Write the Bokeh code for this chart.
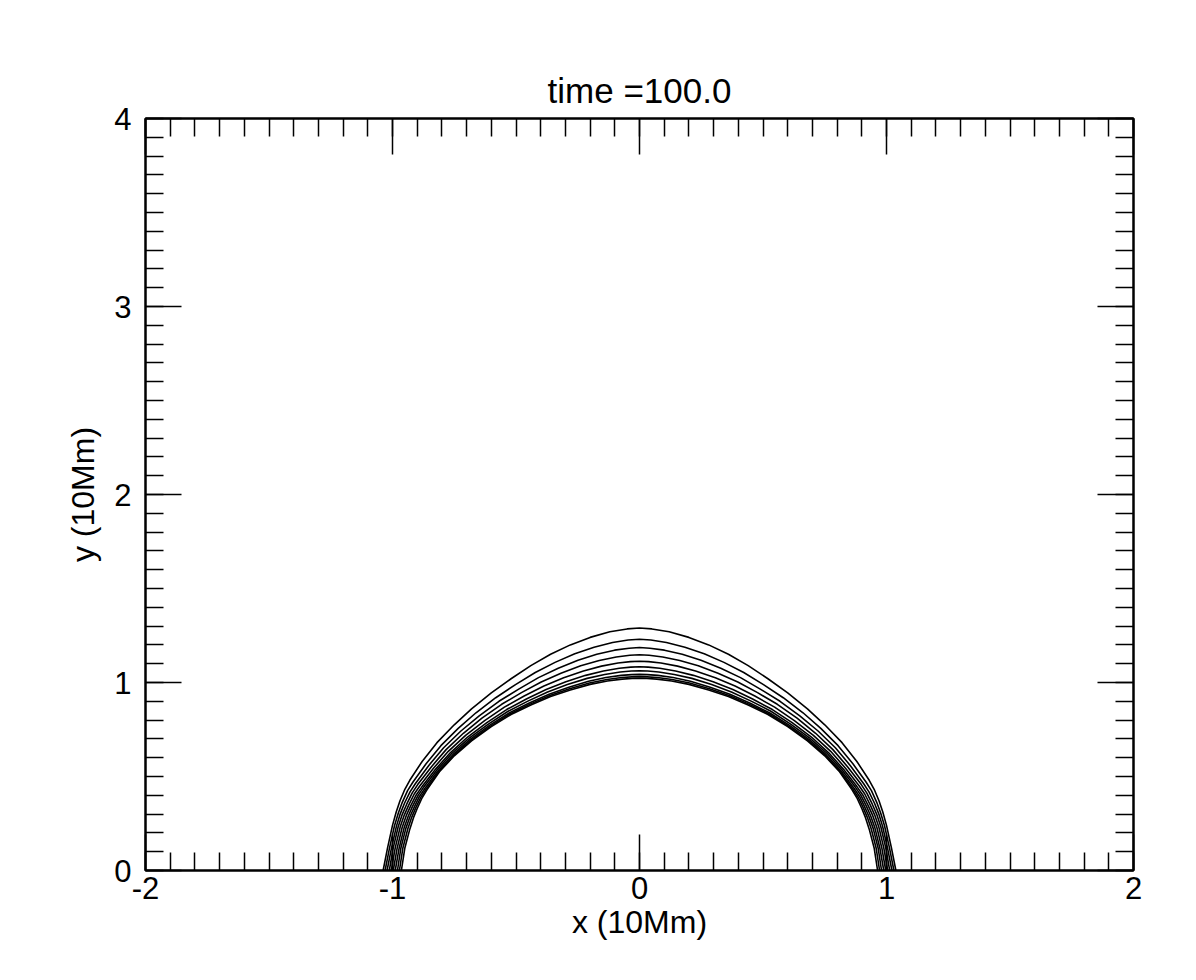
from bokeh.plotting import figure
from bokeh.models import Range1d, LinearAxis, SingleIntervalTicker
from bokeh.embed import file_html
from bokeh.resources import INLINE

# Left halves of the ten field lines (x from foot to apex).
# The arches are symmetric about x = 0.
line0_x = [-1.038, -1.020, -1.000, -0.985, -0.970, -0.950, -0.930, -0.880, -0.820, -0.750, -0.680, -0.600, -0.520, -0.440, -0.360, -0.280, -0.200, -0.120, -0.050, 0.0]
line0_y = [0.0, 0.12, 0.24, 0.311, 0.37, 0.432, 0.48, 0.58, 0.68, 0.775, 0.86, 0.945, 1.02, 1.09, 1.15, 1.20, 1.24, 1.27, 1.285, 1.29]
line1_x = [-1.030, -1.012, -0.992, -0.976, -0.960, -0.939, -0.917, -0.864, -0.804, -0.734, -0.662, -0.582, -0.502, -0.422, -0.342, -0.262, -0.184, -0.109, -0.046, 0.0]
line1_y = [0.0, 0.12, 0.238, 0.307, 0.364, 0.425, 0.471, 0.568, 0.664, 0.756, 0.839, 0.919, 0.989, 1.053, 1.107, 1.153, 1.188, 1.213, 1.226, 1.230]
line2_x = [-1.022, -1.004, -0.984, -0.968, -0.951, -0.929, -0.907, -0.853, -0.793, -0.723, -0.649, -0.569, -0.489, -0.409, -0.329, -0.249, -0.173, -0.101, -0.042, 0.0]
line2_y = [0.0, 0.12, 0.236, 0.304, 0.359, 0.418, 0.463, 0.559, 0.653, 0.742, 0.823, 0.900, 0.965, 1.026, 1.076, 1.118, 1.150, 1.172, 1.182, 1.186]
line3_x = [-1.013, -0.997, -0.977, -0.960, -0.942, -0.920, -0.898, -0.843, -0.783, -0.713, -0.638, -0.558, -0.478, -0.398, -0.318, -0.238, -0.163, -0.094, -0.039, 0.0]
line3_y = [0.0, 0.12, 0.233, 0.300, 0.354, 0.413, 0.457, 0.551, 0.643, 0.730, 0.810, 0.884, 0.946, 1.003, 1.049, 1.089, 1.117, 1.136, 1.145, 1.148]
line4_x = [-1.005, -0.989, -0.969, -0.952, -0.934, -0.912, -0.889, -0.834, -0.774, -0.704, -0.627, -0.547, -0.467, -0.387, -0.307, -0.227, -0.154, -0.087, -0.037, 0.0]
line4_y = [0.0, 0.12, 0.231, 0.296, 0.349, 0.407, 0.451, 0.544, 0.634, 0.719, 0.797, 0.869, 0.928, 0.981, 1.025, 1.061, 1.087, 1.104, 1.111, 1.113]
line5_x = [-0.997, -0.981, -0.961, -0.944, -0.926, -0.904, -0.881, -0.826, -0.766, -0.696, -0.618, -0.538, -0.458, -0.378, -0.298, -0.218, -0.146, -0.082, -0.035, 0.0]
line5_y = [0.0, 0.12, 0.229, 0.293, 0.345, 0.402, 0.445, 0.538, 0.626, 0.710, 0.787, 0.856, 0.912, 0.963, 1.004, 1.038, 1.061, 1.076, 1.082, 1.084]
line6_x = [-0.989, -0.973, -0.953, -0.936, -0.919, -0.897, -0.875, -0.821, -0.761, -0.691, -0.612, -0.532, -0.452, -0.372, -0.292, -0.212, -0.141, -0.078, -0.033, 0.0]
line6_y = [0.0, 0.12, 0.227, 0.290, 0.341, 0.398, 0.441, 0.533, 0.621, 0.703, 0.779, 0.847, 0.901, 0.950, 0.989, 1.022, 1.043, 1.056, 1.061, 1.062]
line7_x = [-0.980, -0.966, -0.946, -0.929, -0.912, -0.891, -0.869, -0.816, -0.756, -0.686, -0.606, -0.526, -0.446, -0.366, -0.286, -0.206, -0.136, -0.074, -0.032, 0.0]
line7_y = [0.0, 0.12, 0.224, 0.287, 0.337, 0.394, 0.436, 0.529, 0.616, 0.697, 0.773, 0.839, 0.891, 0.938, 0.975, 1.007, 1.027, 1.038, 1.042, 1.043]
line8_x = [-0.972, -0.958, -0.938, -0.922, -0.906, -0.885, -0.864, -0.812, -0.752, -0.682, -0.603, -0.523, -0.443, -0.363, -0.283, -0.203, -0.132, -0.072, -0.031, 0.0]
line8_y = [0.0, 0.12, 0.222, 0.284, 0.333, 0.390, 0.433, 0.527, 0.612, 0.693, 0.768, 0.834, 0.885, 0.931, 0.967, 0.997, 1.016, 1.027, 1.030, 1.031]
line9_x = [-0.964, -0.950, -0.930, -0.915, -0.900, -0.880, -0.860, -0.810, -0.750, -0.680, -0.600, -0.520, -0.440, -0.360, -0.280, -0.200, -0.130, -0.070, -0.030, 0.0]
line9_y = [0.0, 0.12, 0.22, 0.281, 0.33, 0.387, 0.43, 0.525, 0.61, 0.69, 0.765, 0.83, 0.88, 0.925, 0.96, 0.99, 1.008, 1.018, 1.021, 1.022]

halves = [
    (line0_x, line0_y), (line1_x, line1_y), (line2_x, line2_y), (line3_x, line3_y),
    (line4_x, line4_y), (line5_x, line5_y), (line6_x, line6_y), (line7_x, line7_y),
    (line8_x, line8_y), (line9_x, line9_y),
]

x_tick_labels = {-2: "-2", -1: "-1", 0: "0", 1: "1", 2: "2"}
y_tick_labels = {0: "0", 1: "1", 2: "2", 3: "3", 4: "4"}
title_text = "time =100.0"
x_label = "x (10Mm)"
y_label = "y (10Mm)"

FONT = "Liberation Sans"

p = figure(width=1180, height=964,
           x_range=Range1d(-2, 2), y_range=Range1d(0, 4),
           output_backend="svg", toolbar_location=None,
           min_border_left=145, min_border_right=47,
           min_border_top=118, min_border_bottom=94)

p.background_fill_color = "white"
p.border_fill_color = "white"
p.grid.visible = False
p.outline_line_color = "black"
p.outline_line_width = 2

p.title.text = title_text
p.title.align = "center"
p.title.text_font = FONT
p.title.text_font_size = "35px"
p.title.text_font_style = "normal"
p.title.text_color = "black"
p.title.standoff = 18

def style_axis(ax, labels=True):
    ax.ticker = SingleIntervalTicker(interval=1, num_minor_ticks=10)
    ax.axis_line_color = "black"
    ax.axis_line_width = 2
    ax.major_tick_line_color = "black"
    ax.major_tick_line_width = 1.5
    ax.minor_tick_line_color = "black"
    ax.minor_tick_line_width = 1.5
    ax.major_tick_in = 36
    ax.major_tick_out = 0
    ax.minor_tick_in = 18
    ax.minor_tick_out = 0
    ax.major_label_text_font = FONT
    ax.major_label_text_font_size = "31px"
    ax.major_label_text_color = "black"
    ax.axis_label_text_font = FONT
    ax.axis_label_text_font_size = "32px"
    ax.axis_label_text_font_style = "normal"
    ax.axis_label_text_color = "black"
    if not labels:
        ax.major_label_text_alpha = 0
        ax.major_label_text_font_size = "1px"
        ax.major_label_standoff = 0

xax = p.xaxis[0]
style_axis(xax)
xax.axis_label = x_label
xax.major_label_overrides = x_tick_labels
xax.major_label_standoff = 6
xax.axis_label_standoff = 2

yax = p.yaxis[0]
style_axis(yax)
yax.axis_label = y_label
yax.major_label_overrides = y_tick_labels
yax.major_label_standoff = 14
yax.axis_label_standoff = 10

top = LinearAxis()
style_axis(top, labels=False)
p.add_layout(top, "above")
right = LinearAxis()
style_axis(right, labels=False)
p.add_layout(right, "right")

xs, ys = [], []
for hx, hy in halves:
    rx = [-v for v in reversed(hx[:-1])]
    ry = list(reversed(hy[:-1]))
    xs.append(list(hx) + rx)
    ys.append(list(hy) + ry)

p.multi_line(xs, ys, line_color="black", line_width=1.6)

open("out.html", "w").write(file_html(p, INLINE))
